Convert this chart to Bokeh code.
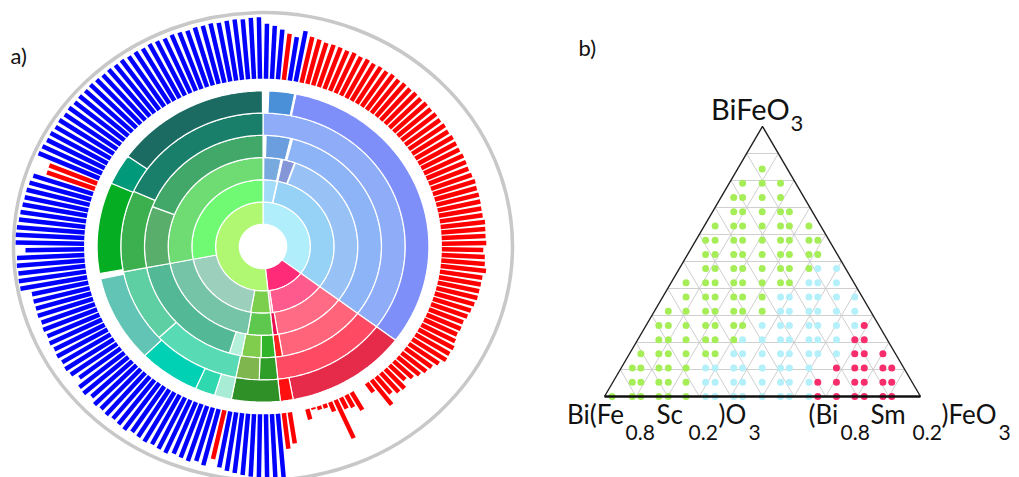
import numpy as np
from bokeh.plotting import figure
from bokeh.layouts import row
from bokeh.models import Range1d
from bokeh.embed import file_html
from bokeh.resources import INLINE
from bokeh.core.properties import value

# ---------------- a) sunburst data ----------------
# segments: ring (1 = innermost), start / end bearing in degrees (clockwise from top), colour
seg_ring = [1, 1, 1,
            2, 2, 2, 2, 2, 2, 2,
            3, 3, 3, 3, 3, 3, 3, 3,
            4, 4, 4, 4, 4, 4, 4, 4, 4, 4,
            5, 5, 5, 5, 5, 5, 5, 5,
            6, 6, 6, 6, 6, 6, 6, 6, 6, 6, 6, 6]
seg_start = [0, 127, 174,
             0.5, 12, 127, 172, 174, 190, 259,
             0.5, 12, 20, 127, 171, 174, 189.5, 259,
             1.5, 14.5, 127, 170.5, 174, 181, 190.5, 196.5, 259, 291,
             0, 127, 174, 181.5, 191, 227, 259, 294.5,
             2, 11.5, 127, 169.5, 174, 191, 197, 204, 225.5, 260, 294, 305.5]
seg_end = [127, 174, 360,
           11.5, 127, 172, 174, 190, 259, 360,
           11, 19.5, 127, 171, 174, 189.5, 259, 360,
           13.5, 127, 170.5, 174, 181, 190.5, 196.5, 259, 291, 360,
           127, 174, 181.5, 191, 227, 259, 294.5, 360,
           11, 127, 169.5, 174, 191, 197, 204, 225.5, 258, 294, 305.5, 359.8]
seg_color = ["#b0eefc", "#ff2a78", "#b0f872",
             "#a2dcf8", "#96d2f6", "#ff5a8e", "#ff98b4", "#7ccf4c", "#9ccfbc", "#70fa74",
             "#78aadf", "#8496d8", "#98c2f6", "#ff6a84", "#e8104e", "#5ec84e", "#76c4a8", "#6edc72",
             "#6a9ede", "#8eb4f8", "#ff647a", "#ff2020", "#30b42a", "#80cc4c", "#b4f0da", "#52b896",
             "#5aae6c", "#41a86a",
             "#8eacf8", "#ff4a64", "#2f9e28", "#7fb74e", "#58dab4", "#5ecfa2", "#3cb04e", "#1a7f6a",
             "#4a90d8", "#7f8ffa", "#e52a4a", "#ff1010", "#2f9028", "#a8ecd6", "#30d8b0", "#00d0b4",
             "#62c4b4", "#05ad22", "#009a7a", "#1b6b63"]

# outer radial bars: 188 bars clockwise from the top; class b = blue, r = red
bar_class = "bbbrbb" + "r" * 85 + "b" * 9 + "r" + "b" * 50 + "rr" + "b" * 35
bar_value = (
    [23.5, 22.7, 21.3, 19.8, 18.8, 21.9]
    + [20.0, 19.6, 18.9, 19.0, 18.8, 18.5, 18.8, 18.3, 18.6, 18.1, 18.3, 18.0, 18.3, 17.9, 18.1,
       17.8, 18.0, 17.7, 17.9, 17.6, 17.8, 17.5, 17.7, 17.3, 17.6, 17.4, 17.2, 17.5, 17.3, 17.1,
       17.4, 17.8, 17.5, 17.6, 17.5, 17.3, 17.3, 17.9, 17.7, 17.6, 17.8, 16.6, 17.3, 17.5, 18.3,
       17.2, 17.1, 17.0, 17.0, 16.5, 16.0, 15.5, 14.8, 15.0, 14.7, 15.3, 16.2, 16.0, 16.3, 14.7,
       13.3, 12.7, 11.6, 10.3, 8.8, 11.3, 10.9, 9.3, 13.3, 4.6, 0.0, 0.0, 8.7, 5.9, 5.2,
       17.9, 4.3, 1.8, 1.6, 0.8, 4.6, 0.0, 0.0, 13.4, 15.3]
    + [27.3, 27.3, 27.3, 26.8, 26.8, 26.3, 25.8, 25.3, 24.3]
    + [21.3]
    + [24.8, 23.8, 24.8, 24.3, 23.8, 24.8, 24.3, 23.8, 24.3, 23.8, 23.3, 24.3, 23.8, 23.3, 23.8,
       23.3, 23.8, 22.3, 23.8, 23.3, 20.8, 22.8, 23.3, 22.8, 23.3, 22.8, 23.3, 22.8, 23.3, 22.8,
       23.3, 23.1, 23.2,
       23.1, 27.2, 27.3, 27.0, 27.3, 27.0, 23.5, 27.5, 27.6, 27.3, 26.8, 26.6, 26.3, 26.1, 26.1,
       25.8, 25.2]
    + [20.5, 20.7]
    + [26.7, 26.5, 26.1, 26.3, 25.9, 26.2, 25.8, 26.1, 25.7, 26.0, 25.8, 26.1, 25.9, 25.7, 26.0,
       25.8, 26.1, 25.7, 25.9, 25.6, 26.0, 25.8, 25.5, 25.9, 25.7, 25.4, 25.8, 25.6, 25.9, 25.5,
       25.8, 26.0, 25.7, 26.1, 26.3]
)
bar_palette = {"b": "#0000ff", "r": "#ff0000"}

# ---------------- b) ternary data ----------------
tern_cols = [0.024, 0.088, 0.115, 0.172, 0.202, 0.258, 0.320, 0.350, 0.409, 0.437,
             0.499, 0.557, 0.585, 0.647, 0.675, 0.734, 0.792, 0.822, 0.881, 0.909]
n_row_steps = 19
# (row, first column, last column)
green_runs = [(0, 0, 5), (1, 1, 5), (2, 1, 5), (3, 2, 7), (4, 3, 8), (5, 3, 9), (6, 4, 10),
              (7, 5, 10), (8, 5, 12), (9, 6, 13), (10, 6, 14), (11, 6, 14), (12, 7, 13),
              (13, 8, 12), (14, 8, 11), (15, 9, 11), (16, 10, 10)]
cyan_runs = [(0, 6, 13), (1, 6, 13), (2, 6, 13), (3, 8, 15), (4, 9, 15), (5, 10, 16),
             (6, 11, 16), (7, 11, 16), (8, 13, 15), (9, 14, 15)]
pink_runs = [(0, 14, 19), (1, 14, 19), (2, 15, 19), (3, 16, 18), (4, 16, 17), (5, 17, 17)]
dot_colors = {"green": "#a6ee58", "cyan": "#b4f0fa", "pink": "#f72d6c"}

FONT = value("Lato")
LIFT = 0.4   # baseline correction (fraction of font size) for the text rendering

# ================= figure a) =================
SX, SY = 249.5, 234.0          # pixels per unit (picture is slightly stretched horizontally)
CX, CY = 262.5, 246.0          # centre in figure pixels
WA, HA = 548, 477
pa = figure(width=WA, height=HA, output_backend="svg", toolbar_location=None,
            x_range=Range1d(-CX / SX, (WA - CX) / SX),
            y_range=Range1d((CY - HA) / SY, CY / SY),
            min_border=0)
pa.axis.visible = False
pa.grid.visible = False
pa.outline_line_color = None

ring_w = 0.095
xs, ys = [], []
for rg, b0, b1 in zip(seg_ring, seg_start, seg_end):
    r0, r1 = ring_w * rg, ring_w * (rg + 1)
    t = np.radians(np.linspace(b0, b1, max(3, int(abs(b1 - b0)) + 2)))
    xs.append(np.concatenate([r1 * np.sin(t), r0 * np.sin(t[::-1])]))
    ys.append(np.concatenate([r1 * np.cos(t), r0 * np.cos(t[::-1])]))
pa.patches(xs, ys, fill_color=seg_color, line_color="white", line_width=1.2)

bar_base = 0.717
step = 360.0 / len(bar_value)
ang = np.radians((np.arange(len(bar_value)) + 0.5) * step)
vals = np.array(bar_value) / 100.0
keep = vals > 0
r_out = bar_base + vals
pa.segment(x0=(bar_base * np.sin(ang))[keep], y0=(bar_base * np.cos(ang))[keep],
           x1=(r_out * np.sin(ang))[keep], y1=(r_out * np.cos(ang))[keep],
           line_color=[bar_palette[c] for c, k in zip(bar_class, keep) if k],
           line_width=4.5, line_cap="butt")

pa.ellipse(x=0, y=0, width=2.0, height=2.0, fill_color=None,
           line_color="#c8c8c8", line_width=3.5)

pa.text(x=[(10 - CX) / SX], y=[(CY - (64 - LIFT * 22)) / SY], text=["a)"], text_font=FONT,
        text_font_size="22px", text_baseline="alphabetic", text_align="left", text_color="#111111")

# ================= figure b) =================
BX, BY = 316.0, 311.8          # pixels per unit
OX, OY = 56.0, 396.0           # bottom-left vertex in figure pixels
WB, HB = 471, 477
H = np.sqrt(3) / 2
pb = figure(width=WB, height=HB, output_backend="svg", toolbar_location=None,
            x_range=Range1d(-OX / BX, (WB - OX) / BX),
            y_range=Range1d((OY - HB) / BY, OY / BY),
            min_border=0)
pb.axis.visible = False
pb.grid.visible = False
pb.outline_line_color = None

gx0, gy0, gx1, gy1 = [], [], [], []
for i in range(1, 10):
    f = i / 10
    gx0.append(f / 2); gy0.append(f * H); gx1.append(1 - f / 2); gy1.append(f * H)
    gx0.append(f); gy0.append(0); gx1.append(f + (1 - f) / 2); gy1.append((1 - f) * H)
    gx0.append(f); gy0.append(0); gx1.append(f / 2); gy1.append(f * H)
pb.segment(gx0, gy0, gx1, gy1, line_color="#cfcfcf", line_width=1)

for name, runs in (("green", green_runs), ("cyan", cyan_runs), ("pink", pink_runs)):
    dx, dy = [], []
    for rw, c0, c1 in runs:
        for c in range(c0, c1 + 1):
            dx.append(tern_cols[c]); dy.append(rw * H / n_row_steps)
    pb.scatter(dx, dy, size=7, fill_color=dot_colors[name], line_color=None)

pb.line([0, 0.5, 1], [0, H, 0], line_color="#222222", line_width=1.4)
pb.line([0, 1], [0, 0], line_color="#111111", line_width=2.6)

PX0 = 548.0   # page x of this figure's left edge


def tx(X):
    return (X - PX0 - OX) / BX


def ty(Y, size):
    return (OY - (Y - LIFT * size)) / BY


main_txt = ["BiFeO", "Bi(Fe", "Sc", ")O", "(Bi", "Sm", ")FeO"]
main_X = [710.5, 566.5, 656.0, 718.0, 808.0, 870.0, 941.0]
main_Y = [119.5, 423.5, 423.5, 423.5, 423.5, 423.5, 423.5]
main_sz = [29, 26, 26, 26, 26, 26, 26]
sub_txt = ["3", "0.8", "0.2", "3", "0.8", "0.2", "3"]
sub_X = [790.0, 625.0, 688.0, 748.0, 840.0, 912.0, 998.0]
sub_Y = [131.5, 440.0, 440.0, 440.0, 440.0, 440.0, 440.0]
sub_sz = [22, 21, 21, 21, 21, 21, 21]

for t, X, Y, s in zip(main_txt + sub_txt, main_X + sub_X, main_Y + sub_Y, main_sz + sub_sz):
    pb.text(x=[tx(X)], y=[ty(Y, s)], text=[t], text_font=FONT, text_font_size=f"{s}px",
            text_baseline="alphabetic", text_align="left", text_color="#111111")

pb.text(x=[tx(578)], y=[ty(56, 22)], text=["b)"], text_font=FONT, text_font_size="22px",
        text_baseline="alphabetic", text_align="left", text_color="#111111")

layout = row(pa, pb, spacing=0)
open("out.html", "w").write(file_html(layout, INLINE))
